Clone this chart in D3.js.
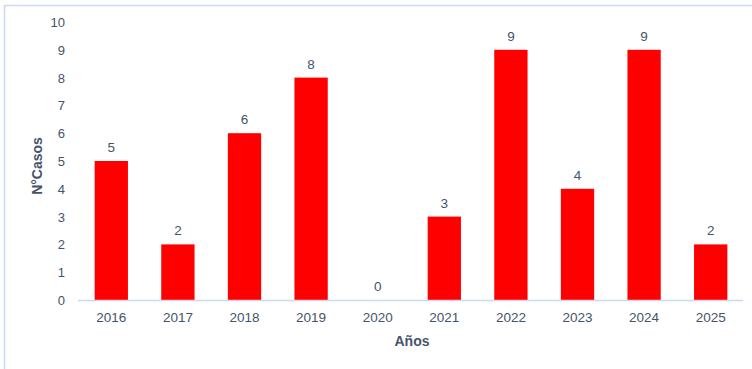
<!DOCTYPE html>
<html><head><meta charset="utf-8">
<script src="https://cdn.jsdelivr.net/npm/d3@7"></script>
<style>body{margin:0;background:#fff;}svg{display:block;font-family:"Liberation Sans",Arial,sans-serif;}</style>
</head><body>
<svg id="c" width="752" height="369"></svg>
<script>
const years = ["2016","2017","2018","2019","2020","2021","2022","2023","2024","2025"];
const casos = [5,2,6,8,0,3,9,4,9,2];
const yTicks = [0,1,2,3,4,5,6,7,8,9,10];
const xTitle = "Años";
const yTitle = "N°Casos";

const svg = d3.select("#c");
const textColor = "#44546a";

// border
svg.append("rect").attr("x",4.5).attr("y",5.5).attr("width",800).attr("height",400)
  .attr("fill","none").attr("stroke","#c9d9ee").attr("stroke-width",1.5);

const x = d3.scaleBand().domain(years).range([78,744]).paddingInner(0.5).paddingOuter(0.25);
const y = d3.scaleLinear().domain([0,10]).range([300,22]);

svg.append("g").selectAll("rect").data(casos).join("rect")
  .attr("x",(d,i)=>x(years[i])).attr("width",x.bandwidth())
  .attr("y",d=>y(d)).attr("height",d=>y(0)-y(d)).attr("fill","#ff0000");

// baseline
svg.append("line").attr("x1",78).attr("x2",743).attr("y1",y(0)+0.5).attr("y2",y(0)+0.5)
  .attr("stroke","#c9d9ee").attr("stroke-width",1.5);

// y tick labels
const yAxis = d3.axisLeft(y).tickValues(yTicks).tickSize(0).tickPadding(0);
const gy = svg.append("g").attr("transform","translate(65,0)").call(yAxis);
gy.select(".domain").remove();
gy.selectAll("text").attr("fill",textColor).attr("font-size","13px").attr("dy","0.35em");

// x tick labels
const xAxis = d3.axisBottom(x).tickSize(0).tickPadding(0);
const gx = svg.append("g").attr("transform","translate(0,312)").call(xAxis);
gx.select(".domain").remove();
gx.selectAll("text").attr("fill",textColor).attr("font-size","13.5px").attr("dy","0.71em");

// value labels
svg.append("g").selectAll("text").data(casos).join("text")
  .attr("x",(d,i)=>x(years[i])+x.bandwidth()/2).attr("y",d=>y(d)-9)
  .attr("text-anchor","middle").attr("fill",textColor).attr("font-size","13.5px").text(d=>d);

// axis titles
svg.append("text").attr("x",412).attr("y",346).attr("text-anchor","middle")
  .attr("font-weight","bold").attr("font-size","14px").attr("fill",textColor).text(xTitle);
svg.append("text").attr("transform","translate(42,166) rotate(-90)").attr("text-anchor","middle")
  .attr("font-weight","bold").attr("font-size","14px").attr("fill",textColor).text(yTitle);
</script>
</body></html>
